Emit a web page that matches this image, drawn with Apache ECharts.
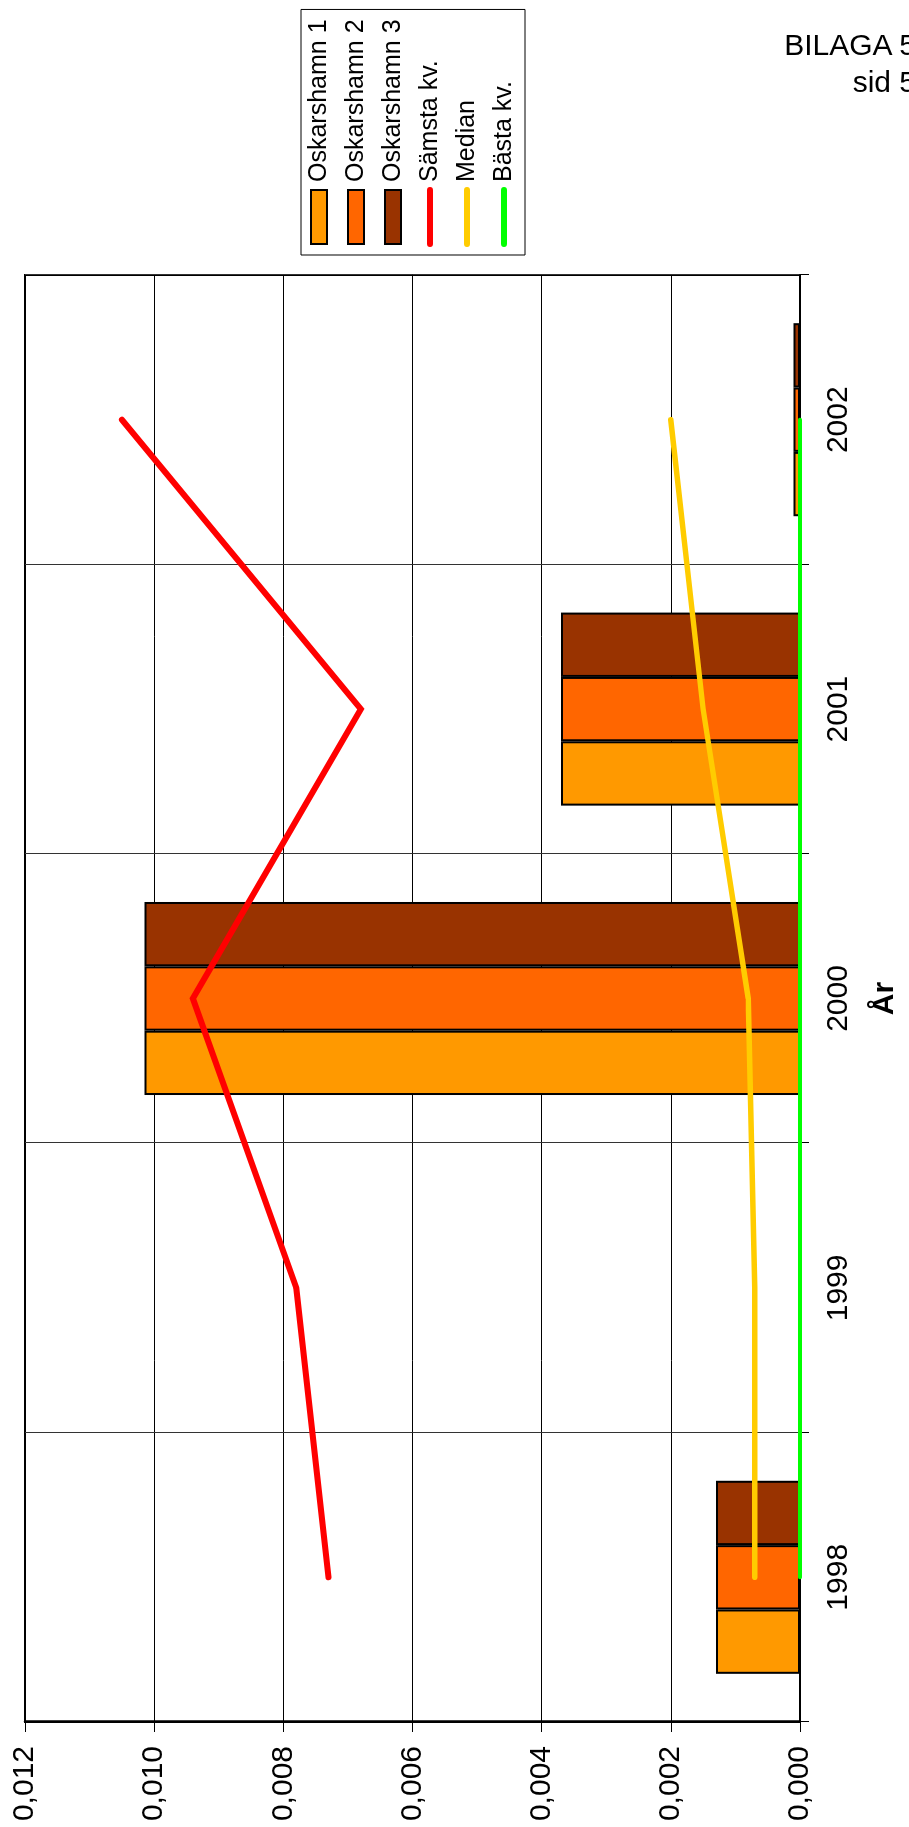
<!DOCTYPE html>
<html>
<head>
<meta charset="utf-8">
<script src="https://cdn.jsdelivr.net/npm/echarts@6/dist/echarts.min.js"></script>
<style>
  html, body { margin: 0; padding: 0; background: #fff; overflow: hidden; }
  body { width: 909px; height: 1827px; position: relative; }
  /* The chart is laid out landscape and turned a quarter turn to stand on the page */
  #chart {
    position: absolute; left: 0; top: 0;
    width: 1827px; height: 909px;
    transform-origin: 0 0;
    transform: translateY(1827px) rotate(-90deg);
    z-index: 1;
  }
  #header {
    position: absolute; top: 26px; right: -7px;
    font-family: "Liberation Sans", Arial, sans-serif;
    font-size: 30px; line-height: 37px; color: #000;
    text-align: right; white-space: pre;
    z-index: 2;
  }
</style>
</head>
<body>
<div id="chart"></div>
<div id="header"></div>
<script>
// Years on the category axis
const years = ['1998', '1999', '2000', '2001', '2002'];

// Reactor values per year (no value reported for 1999)
const oskarshamn1 = [0.0013, null, 0.01015, 0.0037, 0.0001];
const oskarshamn2 = [0.0013, null, 0.01015, 0.0037, 0.0001];
const oskarshamn3 = [0.0013, null, 0.01015, 0.0037, 0.0001];

// Reference curves: worst quartile, median, best quartile
const samstaKv = [0.0073, 0.0078, 0.0094, 0.0068, 0.0105];
const median   = [0.0007, 0.0007, 0.0008, 0.0015, 0.0020];
const bastaKv  = [0, 0, 0, 0, 0];

// Value axis range
const valueMin = 0;
const valueMax = 0.012;
const valueStep = 0.002;

// Page header lines
const headerLines = ['BILAGA 5', 'sid 5'];

document.getElementById('header').textContent = headerLines.join('\n');

const FONT = '"Liberation Sans", Arial, sans-serif';

const chart = echarts.init(document.getElementById('chart'), null, {
  renderer: 'canvas', width: 1827, height: 909
});

function barSeries(name, data, color) {
  return {
    name: name,
    type: 'bar',
    data: data,
    barGap: '0%',
    barCategoryGap: '33.3%',
    itemStyle: { color: color, borderColor: '#000', borderWidth: 2 }
  };
}

function lineSeries(name, data, color, width) {
  return {
    name: name,
    type: 'line',
    data: data,
    symbol: 'none',
    lineStyle: { color: color, width: width, cap: 'round', join: 'miter' },
    itemStyle: { color: color }
  };
}

// Legend entries: plain rectangles for the bars, bare strokes for the curves
const barLegend = name => ({ name: name, icon: 'rect', itemStyle: { borderColor: '#000', borderWidth: 2 } });
const lineLegend = name => ({ name: name, itemStyle: { opacity: 0 }, lineStyle: { width: 6, cap: 'round' } });

chart.setOption({
  animation: false,
  backgroundColor: '#fff',
  textStyle: { fontFamily: FONT },
  grid: {
    left: 105, right: 275, top: 25, bottom: 109,
    containLabel: false,
    outerBoundsMode: 'none',
    show: true, borderColor: '#000', borderWidth: 2, backgroundColor: '#fff'
  },
  legend: {
    orient: 'vertical',
    left: 1572, top: 301,
    padding: [5, 10, 8, 8],
    itemWidth: 54, itemHeight: 16, itemGap: 11,
    backgroundColor: '#fff',
    borderColor: '#000', borderWidth: 1, borderRadius: 0,
    lineStyle: { width: 6, cap: 'round' },
    textStyle: { fontFamily: FONT, fontSize: 25, lineHeight: 26, color: '#000', padding: [0, 0, 0, 3] },
    data: [
      barLegend('Oskarshamn 1'), barLegend('Oskarshamn 2'), barLegend('Oskarshamn 3'),
      lineLegend('Sämsta kv.'), lineLegend('Median'), lineLegend('Bästa kv.')
    ]
  },
  xAxis: {
    type: 'category',
    data: years,
    boundaryGap: true,
    name: 'År',
    nameLocation: 'middle',
    nameGap: 70,
    nameTextStyle: { fontFamily: FONT, fontSize: 30, fontWeight: 'bold', color: '#000' },
    axisLine: { show: true, lineStyle: { color: '#000', width: 2 } },
    axisTick: { show: true, length: 9, alignWithLabel: false, lineStyle: { color: '#000', width: 1 } },
    axisLabel: { fontFamily: FONT, fontSize: 30, color: '#000', margin: 24 },
    splitLine: { show: true, lineStyle: { color: '#333', width: 1 } }
  },
  yAxis: {
    type: 'value',
    min: valueMin, max: valueMax, interval: valueStep,
    axisLine: { show: true, lineStyle: { color: '#000', width: 2.5 } },
    axisTick: { show: true, length: 10, lineStyle: { color: '#000', width: 1 } },
    axisLabel: {
      fontFamily: FONT, fontSize: 30, color: '#000', margin: 24,
      formatter: v => v.toFixed(3).replace('.', ',')
    },
    splitLine: { show: true, lineStyle: { color: '#000', width: 1 } }
  },
  series: [
    barSeries('Oskarshamn 1', oskarshamn1, '#FF9900'),
    barSeries('Oskarshamn 2', oskarshamn2, '#FF6600'),
    barSeries('Oskarshamn 3', oskarshamn3, '#993300'),
    lineSeries('Sämsta kv.', samstaKv, '#FF0000', 6),
    lineSeries('Median', median, '#FFCC00', 5.5),
    lineSeries('Bästa kv.', bastaKv, '#00FF00', 4)
  ]
});
</script>
</body>
</html>
